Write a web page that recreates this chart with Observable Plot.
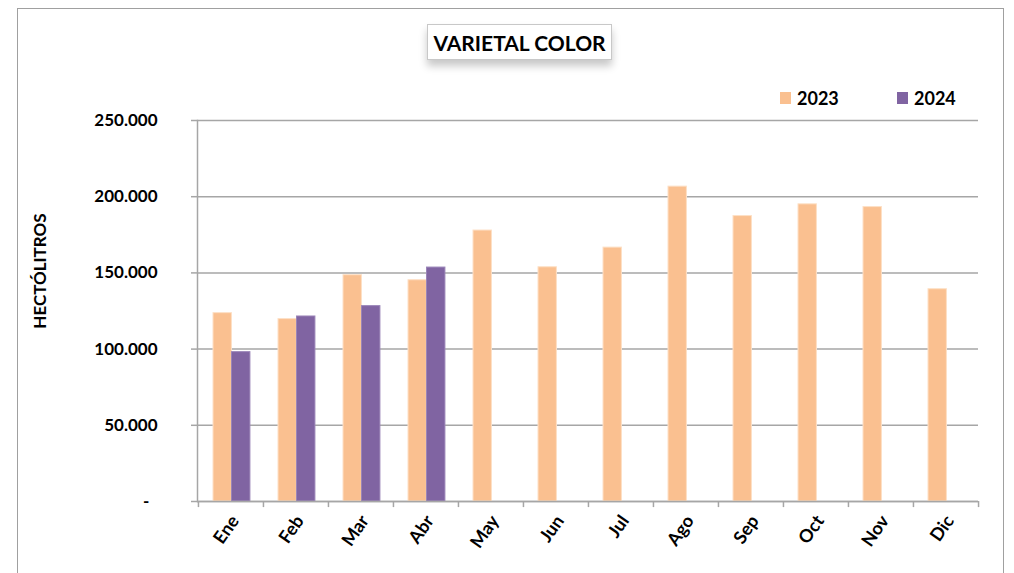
<!DOCTYPE html>
<html>
<head>
<meta charset="utf-8">
<script src="https://cdn.jsdelivr.net/npm/d3@7"></script>
<script src="https://cdn.jsdelivr.net/npm/@observablehq/plot@0.6"></script>
<style>
  html, body { margin: 0; padding: 0; background: #fff; overflow: hidden; }
  #wrap { position: relative; width: 1014px; height: 573px; font-family: Lato, "Open Sans", sans-serif; font-weight: bold; color: #000; }
  #frame { position: absolute; left: 17px; top: 8px; width: 987px; height: 620px; border: 1px solid #a0a0a0; box-sizing: border-box; }
  #chart { position: absolute; left: 0; top: 0; }
  #title { position: absolute; left: 427px; top: 24px; width: 185px; height: 36px; box-sizing: border-box; border: 1px solid #c8c8c8; background: #fff;
           box-shadow: 0 6px 8px rgba(0,0,0,0.22); display: flex; align-items: center; justify-content: center; font-size: 21px; }
  .leg { position: absolute; top: 87px; display: flex; align-items: center; font-size: 18px; line-height: 22px; }
  .sw { width: 11px; height: 12px; margin-right: 6px; }
</style>
</head>
<body>
<div id="wrap">
  <div id="frame"></div>
  <div id="chart"></div>
  <div id="title">VARIETAL COLOR</div>
</div>
<script>
const months = ["Ene","Feb","Mar","Abr","May","Jun","Jul","Ago","Sep","Oct","Nov","Dic"];
const v2023 = [123600,119700,148500,145200,177800,153700,166600,206600,187300,195000,193200,139300];
const v2024 = [98000,121400,128200,153500];
const years = ["2023","2024"];
const colors = ["#FAC090","#8064A2"];
const yTicks = [0,50000,100000,150000,200000,250000];
const yLabel = "HECTÓLITROS";
const title = "VARIETAL COLOR";

const d23 = months.map((m, i) => ({month: m, value: v2023[i]}));
const d24 = v2024.map((v, i) => ({month: months[i], value: v}));
const fmt = d => d === 0 ? "-\u00a0\u00a0" : d3.format(",")(d).replace(/,/g, ".");
const gray = "#a6a6a6";

const step = (978 - 197) / months.length;

const chart = Plot.plot({
  width: 1014, height: 573,
  marginLeft: 197, marginRight: 36, marginTop: 120, marginBottom: 72,
  style: {fontFamily: "Lato, 'Open Sans', sans-serif", fontWeight: "bold", fontSize: "17px", color: "#000", background: "transparent"},
  x: {domain: months, padding: 0},
  y: {domain: [0, 250000]},
  marks: [
    Plot.gridY(yTicks, {stroke: gray, strokeOpacity: 1, strokeWidth: 1.5}),
    Plot.barY(d23, {x: "month", y: "value", fill: colors[0], stroke: "#fde0c6", strokeWidth: 1, insetLeft: 15, insetRight: step - 33.5}),
    Plot.barY(d24, {x: "month", y: "value", fill: colors[1], stroke: "#9a85b8", strokeWidth: 1, insetLeft: 33.5, insetRight: step - 52}),
    Plot.ruleY([0], {stroke: gray, strokeWidth: 1.5}),
    Plot.frame({anchor: "left", stroke: gray, strokeWidth: 1.5}),
    Plot.ruleX(months, {x: d => d, y1: 0, y2: -4000, dx: -step / 2, stroke: gray, strokeWidth: 1.5}),
    Plot.ruleX(months.slice(-1), {x: d => d, y1: 0, y2: -4000, dx: step / 2, stroke: gray, strokeWidth: 1.5}),
    Plot.axisY({ticks: yTicks, tickSize: 6, tickPadding: 34, tickFormat: fmt, stroke: gray, strokeWidth: 1.5, label: null, fontSize: 17}),
    Plot.text([yLabel], {frameAnchor: "left", textAnchor: "middle", dx: -157, dy: -40, rotate: -90, fontSize: 17, fontWeight: "bold", fill: "#000"}),
    Plot.axisX({tickSize: 0, tickRotate: -55, tickPadding: 16, dx: 4, label: null, fontSize: 18})
  ]
});
document.getElementById("chart").appendChild(chart);

const legX = [780, 897];
years.forEach((y, i) => {
  const el = document.createElement("div");
  el.className = "leg";
  el.style.left = legX[i] + "px";
  el.innerHTML = `<div class="sw" style="background:${colors[i]}"></div><span>${y}</span>`;
  document.getElementById("wrap").appendChild(el);
});
</script>
</body>
</html>
